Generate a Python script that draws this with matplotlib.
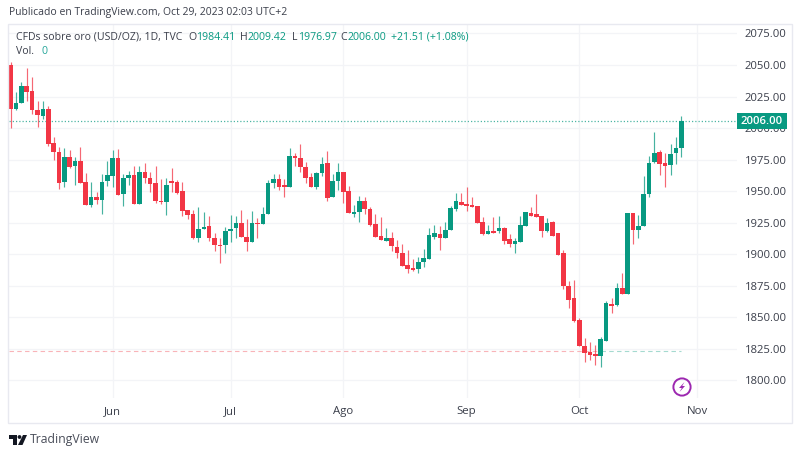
import matplotlib
matplotlib.use("Agg")
import matplotlib.pyplot as plt
from matplotlib.patches import Circle, Polygon, Rectangle
import numpy as np

plt.rcParams['font.family'] = ['Open Sans', 'DejaVu Sans']

opens = [2050,2015.2,2020.2,2033.4,2029,2014,2009.9,2015.2,1987.9,1981,
         1957.3,1977.4,1970.3,1973.9,1957,1939.1,1945.7,1943,1958.1,1962.3,
         1976.1,1947.5,1960.2,1962.9,1939.6,1965.5,1960.7,1956.8,1942.5,1941.2,
         1957.4,1957,1949.9,1935.1,1931.7,1912.7,1920.3,1922.4,1913.2,1907.6,
         1907.4,1918.7,1920.6,1925.1,1914,1910,1925.1,1924,1931.9,1956.2,
         1959.9,1954.9,1953.1,1978.2,1976.1,1968.9,1961.5,1953.6,1964.2,1972.6,
         1945.2,1958.4,1965,1950.2,1931.9,1933.3,1942.2,1935.9,1924,1914.8,
         1910.8,1913.2,1906,1901.3,1891.3,1888.9,1888.6,1893.6,1896.5,1914,
         1915.8,1913.2,1919.3,1935.6,1941.4,1939.6,1939.3,1938.3,1925.3,1915.8,
         1918.7,1918.2,1921.1,1911.9,1908.2,1910,1922.7,1933,1931.7,1930.4,
         1918.5,1925.3,1916.6,1900.8,1875.2,1865.1,1848,1827.4,1822.9,1820.8,
         1819.4,1831.6,1860.6,1859.6,1873.6,1868.3,1932.4,1919.3,1922.4,1947.5,
         1972.8,1981.3,1972,1970.7,1980,1984.41]
closes = [2015,2020.2,2033.4,2028.9,2014,2010.4,2014.9,1987.7,1980.8,1956.8,
          1976.9,1968.9,1973.9,1956.8,1939.1,1945.7,1943,1957.6,1962.9,1976.1,
          1946.8,1960.5,1962.9,1939.6,1965.5,1960.2,1955.7,1942.5,1941.2,1955,
          1956.8,1948.3,1934.6,1931.2,1912.7,1919.8,1921.9,1912.7,1907.4,1906.6,
          1918.7,1920.3,1925.1,1913.5,1910,1924.5,1924,1931.7,1956.2,1959.9,
          1953.6,1953.6,1978.2,1976.1,1968.9,1960.2,1953.6,1964.2,1971.3,1944.4,
          1958.4,1965.5,1949.6,1932.5,1933.3,1942.2,1935.6,1923.5,1914,1911.3,
          1912.7,1906.6,1900.8,1890.7,1888.4,1887.3,1893.9,1896.8,1915.3,1916.6,
          1913.2,1919.3,1936.4,1942.2,1939.1,1938.5,1937.2,1924.5,1915.8,1918.7,
          1917.2,1921.1,1910.5,1908.2,1910.3,1923.2,1933.3,1930.4,1929.8,1918.7,
          1924.5,1914.8,1899.5,1875,1863.8,1847.4,1827.4,1822.1,1820.2,1819.4,
          1832.7,1861.2,1859,1873.6,1868.6,1932.4,1919.3,1922.4,1947.5,1972.5,
          1980.5,1971.5,1970.2,1979.2,1983.9,2006]
highs = [2052.7,2028.9,2036.8,2047.4,2040.8,2021.8,2021.8,2017.8,1992.7,1985.3,
         1984,1982.7,1976.9,1984.8,1964.2,1957,1949.7,1963.4,1973.9,1982.7,
         1983.2,1963.4,1966.3,1970,1970,1972.6,1965.5,1970.3,1959.7,1960.2,
         1968.2,1958.9,1957.6,1935.1,1935.1,1937.2,1933.3,1930.4,1916.6,1912.7,
         1921.9,1931.2,1930.4,1935.1,1927.7,1934.6,1928.5,1937.8,1958.9,1963.4,
         1963.4,1959.4,1984,1980.5,1987.1,1973.4,1964.2,1965.5,1977.4,1982.1,
         1963.6,1972.1,1965.5,1954.4,1939.1,1946.5,1945.7,1937.8,1932,1929.8,
         1920.6,1917.4,1911.3,1908.2,1903.4,1896.3,1898.1,1903.9,1920.6,1923.2,
         1922.4,1925.9,1938.3,1948.8,1948.3,1953.1,1945.7,1938.3,1929.8,1923.2,
         1929.8,1930.4,1921.9,1915.8,1912.7,1930.4,1933.8,1937.7,1947.8,1930.4,
         1929,1926.7,1916.6,1903.4,1879.1,1879.7,1849.3,1833.4,1830.3,1828.2,
         1834.8,1863,1865.1,1877,1885,1932.4,1932.4,1931,1962,1977.8,
         1997.1,1982.6,1980.5,1987.1,1993.2,2009.42]
lows = [1999.8,2014,2019.6,2021.8,2010.9,2001.2,2007.2,1985.9,1974.7,1951.8,
        1953.6,1968.1,1954.9,1956.3,1939.1,1937.2,1939.6,1932,1954.2,1953.1,
        1946.8,1938.3,1954.7,1939.6,1939.6,1956.8,1949.1,1940.4,1939.9,1931,
        1949.7,1947.8,1930.6,1928,1911.9,1910,1920.3,1910.6,1902.9,1892.9,
        1900.8,1910,1912.7,1913.5,1902.9,1910,1912.7,1924,1931.9,1952.3,
        1951,1945.7,1953.1,1970,1965.5,1956.2,1953.6,1951.5,1962.3,1942.2,
        1945.2,1951,1940.9,1932.5,1929.3,1925.3,1932,1922.4,1914,1911.3,
        1910.8,1902.6,1896.8,1890.7,1884.9,1886.8,1884.9,1889.7,1896.5,1912.1,
        1903.4,1912.7,1919.3,1934.6,1939.1,1934.6,1937.2,1924.5,1915.3,1915.8,
        1916.6,1916.6,1908.2,1905.5,1900.8,1910,1922.7,1930.4,1929.8,1914,
        1917.9,1914.8,1899.5,1872.5,1857.7,1846.1,1827.4,1815,1816.3,1812.3,
        1811,1831.6,1853.3,1859,1868.6,1868.3,1908.2,1912.7,1922.4,1945.1,
        1972,1962.8,1953.5,1962.8,1971.5,1976.97]

price_ticks = [1800,1825,1850,1875,1900,1925,1950,1975,2000,2025,2050,2075]
month_pos = [19, 41, 62, 85, 106, 128]
month_labels = ["Jun", "Jul", "Ago", "Sep", "Oct", "Nov"]
last_price = 2006.0
low_level = 1823.4

GREEN = "#089981"
RED = "#F23645"
GRID = "#F3F4F7"
BORDER = "#E8E9F0"
TEXT = "#3a3e4a"
W, H = 800, 455

fig = plt.figure(figsize=(W/100, H/100), dpi=100, facecolor="white")
ax = fig.add_axes([8.5/W, 1-398/H, (736.5-8.5)/W, (398-25)/H])
ax.set_xlim(-0.41, 135.3)
ax.set_ylim(1786.1, 2081.7)
for s in ax.spines.values():
    s.set_visible(False)
ax.set_yticks(price_ticks)
ax.set_xticks(month_pos)
ax.set_xticklabels(month_labels, fontsize=8.2, color=TEXT)
ax.yaxis.tick_right()
ax.set_yticklabels([f"{p:.2f}" for p in price_ticks], fontsize=8.1, color=TEXT)
ax.tick_params(axis="both", length=0)
ax.tick_params(axis="y", pad=6)
ax.tick_params(axis="x", pad=6)
ax.grid(True, color=GRID, lw=0.9)
ax.set_axisbelow(True)

x = np.arange(len(opens))
o, h, l, c = map(np.array, (opens, highs, lows, closes))
colors = [GREEN if cc >= oo else RED for oo, cc in zip(o, c)]
ax.vlines(x, l, h, colors=colors, lw=0.85, alpha=0.75, zorder=3)
ax.bar(x, np.maximum(np.abs(c-o), 1.0), bottom=np.minimum(o, c), width=0.86,
       color=colors, lw=0, zorder=4)

ax.axhline(last_price, color="#4db6a4", lw=0.9, ls=(0, (1, 1.6)), zorder=2)
split = 110
ax.plot([-0.41, split], [low_level]*2, color="#F9B4B8", lw=0.8, ls=(0, (4, 3)), zorder=2)
ax.plot([split, len(opens)-1], [low_level]*2, color="#A5DAD0", lw=0.8, ls=(0, (4, 3)), zorder=2)

# overlay in pixel coordinates for the frame and chrome
ov = fig.add_axes([0, 0, 1, 1], facecolor="none")
ov.set_xlim(0, W); ov.set_ylim(H, 0); ov.axis("off")
ov.add_patch(Rectangle((8, 24), 783.5, 398.5, fill=False, ec=BORDER, lw=1))

ov.text(9, 12, "Publicado en TradingView.com, Oct 29, 2023 02:03 UTC+2",
        fontsize=7.5, color=TEXT, va="center")
ov.text(16, 37, "CFDs sobre oro (USD/OZ), 1D, TVC", fontsize=7.6, color=TEXT, va="center")
for lbl, lx, val, vx in [("O", 188, "1984.41", 196), ("H", 240, "2009.42", 247),
                         ("L", 292, "1976.97", 298), ("C", 340, "2006.00", 347)]:
    ov.text(lx, 37, lbl, fontsize=7.6, color=TEXT, va="center")
    ov.text(vx, 37, val, fontsize=7.6, color=GREEN, va="center")
ov.text(391, 37, "+21.51 (+1.08%)", fontsize=7.6, color=GREEN, va="center")
ov.text(16, 52, "Vol.", fontsize=7.6, color=TEXT, va="center")
ov.text(41, 52, "0", fontsize=7.6, color="#26a69a", va="center")

ov.add_patch(Rectangle((737, 113), 49.5, 15.5, fc=GREEN, ec="none", zorder=5))
ov.text(761.7, 121, "2006.00", fontsize=8.2, color="white", ha="center", va="center",
        fontweight="semibold", zorder=6)

# bolt icon
ov.add_patch(Circle((682, 387), 8.6, fill=False, ec="#9C27B0", lw=1.4))
ov.add_patch(Polygon([(684.5, 382), (679, 388), (681.8, 388), (679.5, 392),
                      (685, 386), (682.2, 386)], closed=True, fc="#9C27B0", ec="none"))

# TradingView mark
logo = "#131722"
ov.add_patch(Polygon([(9, 435), (17, 435), (17, 445), (13, 445), (13, 439), (9, 439)], fc=logo, ec="none"))
ov.add_patch(Circle((19.5, 437), 1.9, fc=logo, ec="none"))
ov.add_patch(Polygon([(23, 435), (27, 435), (22.5, 445), (18, 445)], fc=logo, ec="none"))
ov.text(30, 439.5, "TradingView", fontsize=8.8, color="#4a4e5a", va="center")

fig.savefig("out.png", dpi=100, facecolor="white")
